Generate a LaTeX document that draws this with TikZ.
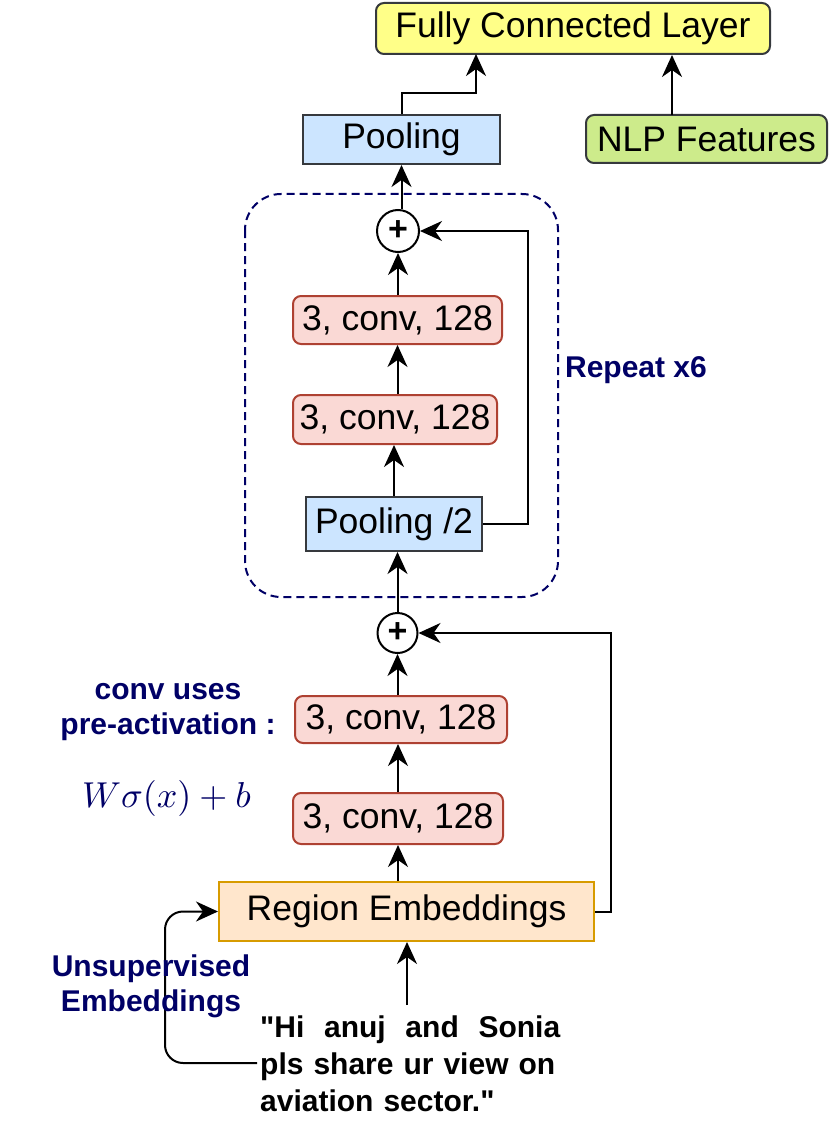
\documentclass[tikz,border=0pt]{standalone}
\usepackage{graphicx}
\usepackage{fontspec}
\setmainfont{Liberation Sans}[Ligatures=TeXOff]
\usetikzlibrary{arrows.meta,calc}
\definecolor{navy}{HTML}{000066}
\definecolor{gstroke}{HTML}{36393D}
\definecolor{convfill}{HTML}{FAD9D5}
\definecolor{convdraw}{HTML}{AE4132}
\definecolor{poolfill}{HTML}{CCE5FF}
\definecolor{fclfill}{HTML}{FFFF88}
\definecolor{nlpfill}{HTML}{CDEB8B}
\definecolor{regfill}{HTML}{FFE6CC}
\definecolor{regdraw}{HTML}{D79B00}
\tikzset{
  box/.style={draw, line width=2pt, inner sep=0pt, font=\fontsize{35.5}{40}\selectfont},
  convbox/.style={box, fill=convfill, draw=convdraw, rounded corners=8pt},
  poolbox/.style={box, fill=poolfill, draw=gstroke},
  fclbox/.style={box, fill=fclfill, draw=gstroke, rounded corners=8pt},
  nlpbox/.style={box, fill=nlpfill, draw=gstroke, rounded corners=8pt},
  regbox/.style={box, fill=regfill, draw=regdraw},
  sumnode/.style={circle, draw, line width=2pt, minimum size=42pt, inner sep=0pt, font=\fontsize{34}{34}\selectfont},
  arr/.style={line width=2pt, -{Stealth[length=22pt,width=20pt,inset=7pt]}},
  lbl/.style={font=\bfseries\fontsize{30}{35}\selectfont, text=navy, align=center, inner sep=0pt}
}
\begin{document}
\begin{tikzpicture}[x=1pt,y=-1pt]
\useasboundingbox (0,0) rectangle (830,1123);

% repeat block
\draw[navy, line width=2pt, dash pattern=on 8pt off 5pt, rounded corners=36pt] (245,194) rectangle (558,597);
\node[lbl] (rep) at (636,370) {Repeat x6};

\coordinate (ustart) at (257,1063);
\coordinate (ubend) at (165,1063);

% nodes
\node[fclbox, minimum width=394pt, minimum height=51pt] (fcl) at (573,28.5) {Fully Connected Layer};
\node[poolbox, minimum width=197pt, minimum height=49pt] (pool) at (401.5,139.5) {Pooling};
\node[nlpbox, minimum width=241pt, minimum height=48pt] (nlp) at (706.5,139) {NLP Features};
\node[sumnode] (s1) at (398,231) {\textbf{+}};
\node[convbox, minimum width=209pt, minimum height=48pt] (c1) at (397.5,320) {3, conv, 128};
\node[convbox, minimum width=204pt, minimum height=49pt] (c2) at (395,419.5) {3, conv, 128};
\node[poolbox, minimum width=176pt, minimum height=54pt] (p2) at (394,524) {Pooling /2};
\node[sumnode, minimum size=40pt] (s2) at (397.5,633) {\textbf{+}};
\node[convbox, minimum width=212pt, minimum height=47pt] (c3) at (401,719.5) {3, conv, 128};
\node[convbox, minimum width=210pt, minimum height=51pt] (c4) at (398,818.5) {3, conv, 128};
\node[regbox, minimum width=375pt, minimum height=59pt] (reg) at (406.5,911.5) {Region Embeddings};

\draw[arr, rounded corners=18pt] (ustart) -- (ubend) -- (ubend |- reg.west) -- (reg.west);

% labels
\node[lbl] (pre) at (168,712) {conv uses\\pre-activation :};
\node[text=navy, inner sep=0pt] (eq) at (166.5,798) {\scalebox{3.6}{$W\sigma(x)+b$}};
\node[lbl] (uns) at (151,986) {Unsupervised\\Embeddings};
\node[anchor=base west, inner sep=0pt, text width=300pt, align=left,
      font=\bfseries\fontsize{30}{37}\selectfont] (quote) at (260,1037)
  {"Hi\hfill anuj\hfill and\hfill Sonia\\pls share ur view on\\aviation sector."};

% coordinates
\coordinate (qtop) at (407,1005);
\coordinate (bend) at (0,93);
\coordinate (fcin) at (476,54);
\coordinate (nlpout) at (672,115);

% connectors
\draw[arr] (qtop) -- (qtop |- reg.south);
\draw[arr] (reg.north -| c4) -- (c4.south);
\draw[arr] (c4.north) -- (c4.north |- c3.south);
\draw[arr] (c3.north -| s2) -- (s2.south);
\draw[arr] (s2.north) -- (s2.north |- p2.south);
\draw[arr] (p2.north) -- (p2.north |- c2.south);
\draw[arr] (c2.north -| c1) -- (c1.south);
\draw[arr] (c1.north -| s1) -- (s1.south);
\draw[arr] (s1.north -| pool) -- (pool.south);
\draw[arr] (pool.north) -- (pool.north |- bend) -| (fcin);
\draw[arr] (nlpout) -- (nlpout |- fcl.south);
\draw[arr] (p2.east) -- ++(45,0) |- (s1.east);
\draw[arr] (reg.east) -- ++(16,0) |- (s2.east);
\end{tikzpicture}
\end{document}
